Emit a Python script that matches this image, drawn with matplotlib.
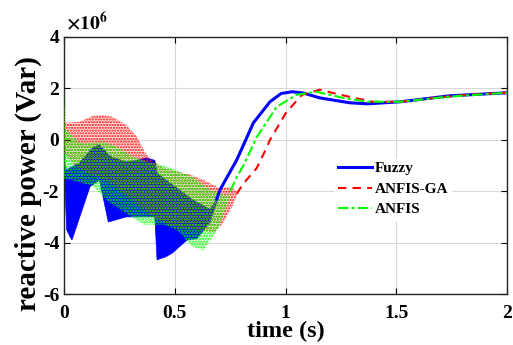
import numpy as np
import matplotlib
matplotlib.use('Agg')
import matplotlib.pyplot as plt

plt.rcParams['font.family'] = ['Liberation Serif', 'DejaVu Serif']
plt.rcParams['font.weight'] = 'bold'
plt.rcParams['mathtext.fontset'] = 'stix'
plt.rcParams['hatch.linewidth'] = 1.1

SCALE = 1e6
labels = ['Fuzzy', 'ANFIS-GA', 'ANFIS']
xtick_vals = [0, 0.5, 1, 1.5, 2]
xtick_labels = ['0', '0.5', '1', '1.5', '2']
ytick_vals = [-6, -4, -2, 0, 2, 4]
ytick_labels = ['-6', '-4', '-2', '0', '2', '4']

# ---- oscillating part: envelopes (x1e6 Var) ----
fuzzy_up_t = [0, 0.004, 0.01, 0.07, 0.13, 0.16, 0.21, 0.28, 0.34, 0.37, 0.41, 0.42, 0.46, 0.58, 0.66, 0.69]
fuzzy_up_y = [2.0, -1.0, -1.17, -0.9, -0.3, -0.2, -0.66, -0.86, -0.78, -0.7, -0.8, -1.3, -1.56, -2.33, -2.72, -2.3]
fuzzy_lo_t = [0, 0.003, 0.012, 0.027, 0.036, 0.117, 0.16, 0.20, 0.28, 0.34, 0.41, 0.42, 0.46, 0.49, 0.555, 0.60, 0.66, 0.69]
fuzzy_lo_y = [-1.0, -1.5, -3.5, -3.77, -3.9, -1.83, -1.56, -3.2, -3.0, -3.0, -3.0, -4.67, -4.55, -4.4, -3.9, -3.85, -3.2, -2.4]

ga_up_t = [0, 0.004, 0.01, 0.07, 0.13, 0.18, 0.22, 0.28, 0.33, 0.365, 0.39, 0.45, 0.57, 0.63, 0.70, 0.75, 0.78]
ga_up_y = [1.5, 0.7, 0.66, 0.70, 0.93, 0.97, 0.89, 0.58, 0.12, -0.47, -0.78, -1.1, -1.36, -1.56, -1.87, -1.83, -2.0]
ga_lo_t = [0, 0.05, 0.10, 0.20, 0.30, 0.40, 0.50, 0.60, 0.68, 0.72, 0.76, 0.78]
ga_lo_y = [-0.5, -1.0, -1.3, -1.6, -2.3, -3.0, -3.4, -3.5, -3.6, -3.2, -2.6, -2.2]

anfis_up_t = [0, 0.004, 0.01, 0.07, 0.13, 0.18, 0.24, 0.31, 0.40, 0.48, 0.52, 0.58, 0.66, 0.74, 0.75]
anfis_up_y = [2.06, 0.6, 0.4, -0.12, -0.12, -0.08, -0.27, -0.66, -0.9, -1.09, -1.24, -1.44, -1.95, -2.2, -2.0]
anfis_lo_t = [0, 0.05, 0.13, 0.20, 0.28, 0.36, 0.45, 0.51, 0.58, 0.63, 0.70, 0.75]
anfis_lo_y = [-1.5, -1.6, -1.8, -2.4, -2.85, -3.3, -3.3, -3.5, -4.16, -4.3, -3.4, -2.2]

# ---- smooth part (x1e6 Var) ----
fuzzy_t = [0.69, 0.704, 0.78, 0.855, 0.93, 0.98, 1.03, 1.08, 1.155, 1.29, 1.37, 1.52, 1.74, 2.0]
fuzzy_y = [-2.3, -1.95, -0.78, 0.66, 1.48, 1.80, 1.87, 1.82, 1.63, 1.44, 1.40, 1.48, 1.71, 1.83]
ga_t = [0.78, 0.81, 0.87, 0.915, 0.93, 1.005, 1.075, 1.155, 1.21, 1.29, 1.395, 1.52, 1.67, 1.82, 2.0]
ga_y = [-2.1, -1.7, -1.1, -0.3, 0.0, 1.09, 1.75, 1.95, 1.83, 1.67, 1.48, 1.48, 1.63, 1.75, 1.83]
anfis_t = [0.75, 0.78, 0.81, 0.87, 0.96, 1.05, 1.14, 1.26, 1.37, 1.52, 1.74, 2.0]
anfis_y = [-2.0, -1.45, -1.0, 0.1, 1.28, 1.75, 1.87, 1.63, 1.48, 1.48, 1.68, 1.83]

BLUE, RED, GREEN = '#0000ff', '#ff0000', '#00ff00'

def poly(ut, uy, lt, ly):
    x = np.r_[ut, lt[::-1]]
    y = np.r_[uy, ly[::-1]] * SCALE
    return x, y

fig = plt.figure(figsize=(5.13, 3.45), dpi=100)
ax = fig.add_axes([0.1248, 0.1478, 0.8635, 0.745])

x, y = poly(fuzzy_up_t, fuzzy_up_y, fuzzy_lo_t, fuzzy_lo_y)
ax.fill(x, y, facecolor=BLUE, edgecolor=BLUE, linewidth=0.5, zorder=2)
x, y = poly(ga_up_t, ga_up_y, ga_lo_t, ga_lo_y)
ax.fill(x, y, facecolor=(1, 0, 0, 0.08), edgecolor=RED, hatch='......', linewidth=0, zorder=3)
x, y = poly(anfis_up_t, anfis_up_y, anfis_lo_t, anfis_lo_y)
ax.fill(x, y, facecolor=(0, 1, 0, 0.08), edgecolor=GREEN, hatch='......', linewidth=0, zorder=4)

ax.plot(fuzzy_t, np.array(fuzzy_y) * SCALE, color=BLUE, lw=2.2, label=labels[0], zorder=5)
ax.plot(ga_t, np.array(ga_y) * SCALE, color=RED, lw=1.5, ls=(0, (4, 3)), label=labels[1], zorder=5)
ax.plot(anfis_t, np.array(anfis_y) * SCALE, color=GREEN, lw=1.5, ls=(0, (5, 1.5, 1.5, 1.5)), label=labels[2], zorder=5)

ax.set_xlim(0, 2)
ax.set_ylim(-6e6, 4e6)
ax.set_xticks(xtick_vals)
ax.set_xticklabels(xtick_labels)
ax.set_yticks(np.array(ytick_vals) * SCALE)
ax.set_yticklabels(ytick_labels)
ax.text(0.005, 1.012, r'$\times10^{6}$', transform=ax.transAxes, fontsize=14,
        ha='left', va='bottom')

ax.grid(True, color='#d9d9d9', lw=0.8)
ax.set_axisbelow(True)
ax.tick_params(direction='in', top=True, right=True, labelsize=14, length=4, width=0.8)
ax.tick_params(axis='x', pad=8)
for sp in ax.spines.values():
    sp.set_linewidth(1.0)
    sp.set_color('#262626')

ax.set_xlabel('time (s)', fontsize=17.5, fontweight='bold')
ax.xaxis.set_label_coords(0.5, -0.105)
ax.xaxis.label.set_va('top')
ax.set_ylabel('reactive power (Var)', fontsize=21, fontweight='bold')
ax.yaxis.set_label_coords(-0.05, 0.43)

leg = ax.legend(loc='upper left', bbox_to_anchor=(0.612, 0.527), frameon=True, fontsize=11,
                handlelength=2.2, labelspacing=0.45, borderpad=0.2, handletextpad=0.2,
                borderaxespad=0)
leg.get_frame().set_edgecolor('white')
leg.get_frame().set_facecolor('white')
leg.get_frame().set_alpha(1.0)
leg.get_frame().set_boxstyle('square', pad=0)

fig.savefig('out.png', dpi=100)
